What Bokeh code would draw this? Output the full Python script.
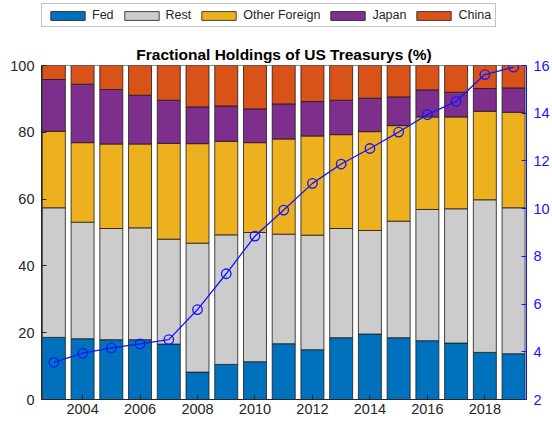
from bokeh.plotting import figure
from bokeh.layouts import column
from bokeh.models import (Range1d, LinearAxis, Legend, LegendItem,
                          FixedTicker, ColumnDataSource)
from bokeh.embed import file_html
from bokeh.resources import INLINE

# ---- data ----
years = [2003, 2004, 2005, 2006, 2007, 2008, 2009, 2010, 2011, 2012,
         2013, 2014, 2015, 2016, 2017, 2018, 2019]
fed = [18.6, 18.2, 17.9, 17.9, 16.6, 8.2, 10.5, 11.3, 16.7, 14.9,
       18.5, 19.6, 18.5, 17.6, 16.9, 14.1, 13.7]
rest = [38.8, 34.9, 33.3, 33.5, 31.4, 38.6, 38.8, 38.7, 32.8, 34.3,
        32.7, 31.0, 34.9, 39.3, 40.2, 45.7, 43.7]
other_foreign = [22.9, 23.8, 25.3, 25.1, 28.7, 29.8, 28.0, 26.9, 28.5, 29.7,
                 28.1, 29.6, 28.6, 27.7, 27.5, 26.5, 28.6]
japan = [15.5, 17.5, 16.3, 14.6, 12.9, 11.0, 10.6, 10.1, 10.5, 10.3,
         10.3, 10.0, 8.6, 8.1, 7.4, 6.8, 7.3]
china = [4.2, 5.6, 7.2, 8.9, 10.4, 12.4, 12.1, 13.0, 11.5, 10.8,
         10.4, 9.8, 9.4, 7.3, 8.0, 6.9, 6.7]
total_debt = [3.56, 3.94, 4.16, 4.33, 4.51, 5.77, 7.27, 8.85, 9.94, 11.06,
              11.87, 12.52, 13.21, 13.94, 14.50, 15.62, 15.93]

series_names = ["Fed", "Rest", "Other Foreign", "Japan", "China"]
x_ticks = [2004, 2006, 2008, 2010, 2012, 2014, 2016, 2018]
y_ticks_left = [0, 20, 40, 60, 80, 100]
y_ticks_right = [2, 4, 6, 8, 10, 12, 14, 16]
title_text = "Fractional Holdings of US Treasurys (%)"

colors = ["#0072BD", "#CCCCCC", "#EDB120", "#7E2F8E", "#D95319"]
BLUE = "#1414FF"
AX = "#262626"
EDGE = "#1a1a1a"
FONT = "Liberation Sans"

FW, FH = 485, 334
LEG_H = 30

src = ColumnDataSource(dict(year=years, fed=fed, rest=rest, other=other_foreign,
                            japan=japan, china=china, debt=total_debt))

# ---- main chart ----
p = figure(frame_width=FW, frame_height=FH, x_range=Range1d(2002.57, 2019.45),
           y_range=Range1d(0, 100), output_backend="svg", toolbar_location=None,
           min_border_left=41, min_border_right=26, min_border_top=65 - LEG_H,
           min_border_bottom=22)
p.title.text = title_text
p.title.align = "center"
p.title.text_font = FONT
p.title.text_font_size = "15.5px"
p.title.text_font_style = "bold"
p.title.text_color = "black"
p.title.standoff = 5
p.extra_y_ranges = {"debt": Range1d(2, 16)}

p.xgrid.visible = False
p.ygrid.visible = False
p.outline_line_color = "#8c8c8c"
p.background_fill_color = "white"

for ax in (p.xaxis[0], p.yaxis[0]):
    ax.major_tick_in = 5
    ax.major_tick_out = 0
    ax.minor_tick_line_color = None
    ax.axis_line_color = AX
    ax.major_tick_line_color = AX
    ax.major_label_text_color = AX
    ax.major_label_text_font = FONT
    ax.major_label_text_font_size = "14.5px"
p.xaxis[0].major_label_standoff = 4
p.yaxis[0].major_label_standoff = 7
p.xaxis[0].ticker = FixedTicker(ticks=x_ticks)
p.yaxis[0].ticker = FixedTicker(ticks=y_ticks_left)

renderers = p.vbar_stack(["fed", "rest", "other", "japan", "china"], x="year",
                         width=0.8, source=src, fill_color=colors,
                         line_color=EDGE, line_width=0.8)

p.line("year", "debt", source=src, y_range_name="debt", line_color=BLUE,
       line_width=1.3)
p.scatter("year", "debt", source=src, y_range_name="debt", marker="circle",
          size=9.5, fill_color=None, line_color=BLUE, line_width=1.3)

right = LinearAxis(y_range_name="debt", ticker=FixedTicker(ticks=y_ticks_right),
                   axis_line_color=BLUE, major_tick_line_color=BLUE,
                   major_label_text_color=BLUE, major_tick_in=5, major_tick_out=0,
                   minor_tick_line_color=None, major_label_text_font=FONT,
                   major_label_text_font_size="14.5px", major_label_standoff=7)
p.add_layout(right, "right")

# ---- legend strip (separate figure above the chart; its frame aligns with the chart's) ----
lg = figure(width=552, height=LEG_H, x_range=Range1d(0, 1), y_range=Range1d(0, 1),
            output_backend="svg", toolbar_location=None,
            x_axis_location=None, y_axis_location=None,
            min_border_left=0, min_border_right=0, min_border_top=0,
            min_border_bottom=0)
lg.xgrid.visible = False
lg.ygrid.visible = False
lg.outline_line_color = None
# legend swatch renderers: one zero-height bar each, lying outside this strip's range
swatches = [lg.vbar(x=years[:1], top=[0], width=0.8, fill_color=c,
                    line_color=EDGE, line_width=0.8) for c in colors]
legend = Legend(items=[LegendItem(label=n, renderers=[r])
                       for n, r in zip(series_names, swatches)],
                orientation="horizontal", location=(0, 3),
                glyph_width=43, glyph_height=11, label_text_font=FONT,
                label_text_font_size="12.5px", label_text_color=AX,
                label_standoff=3, spacing=6, padding=4, margin=0,
                label_height=13, border_line_color="#888888")
lg.add_layout(legend, "center")

layout = column(lg, p, spacing=0)
open("out.html", "w").write(file_html(layout, INLINE))
